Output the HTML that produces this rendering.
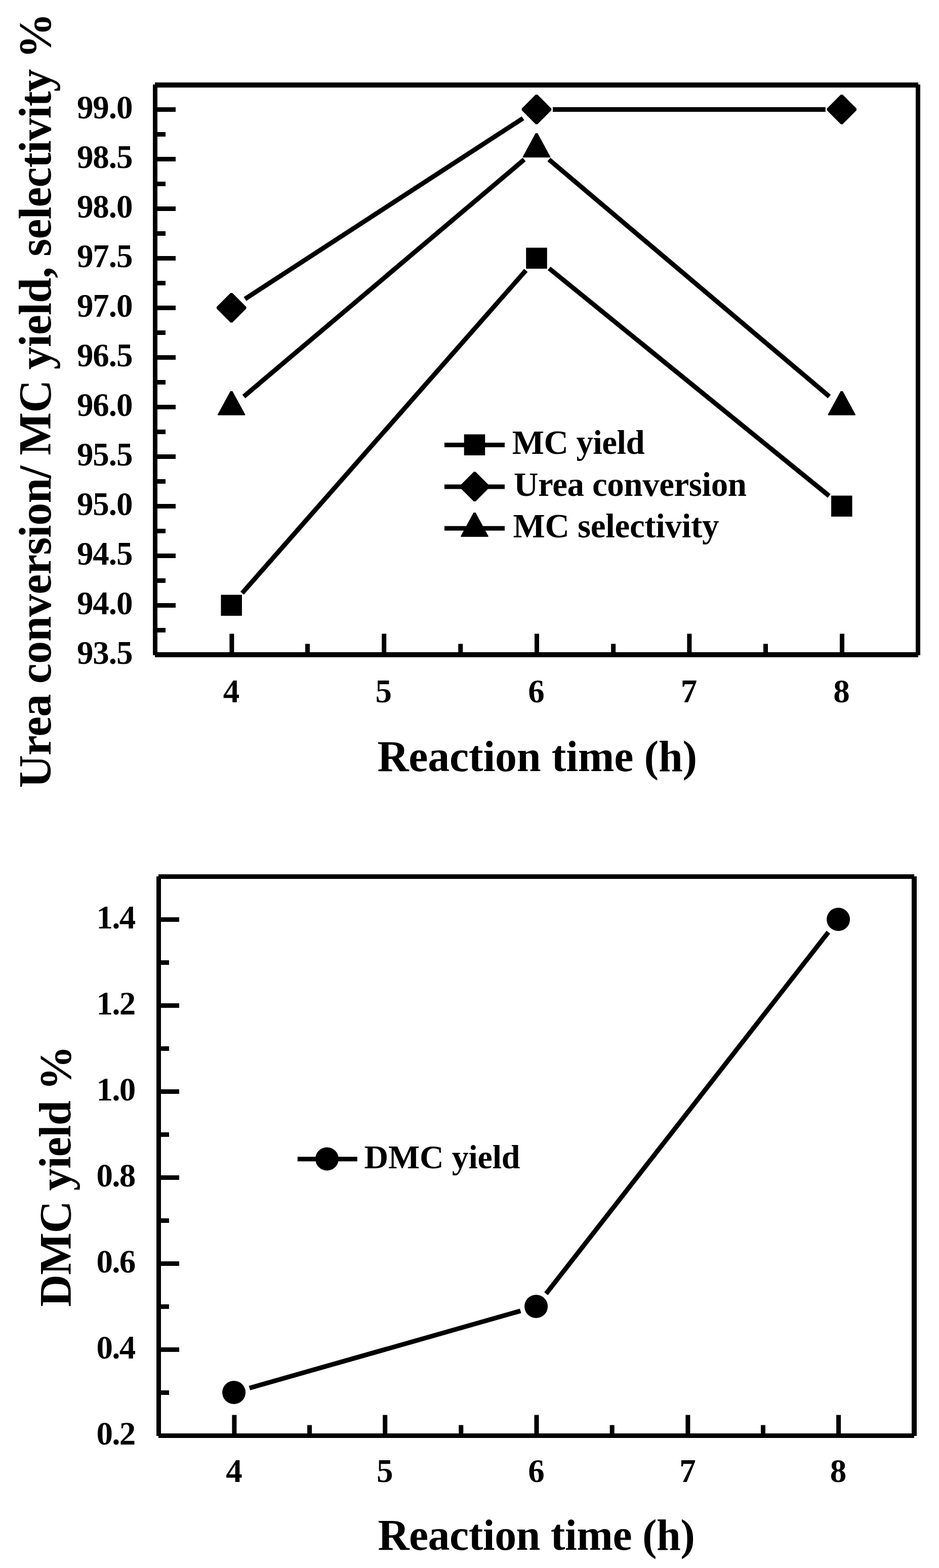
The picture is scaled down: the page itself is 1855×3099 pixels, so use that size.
<!DOCTYPE html>
<html><head><meta charset="utf-8"><title>Reaction time charts</title>
<style>
html,body{margin:0;padding:0;background:#fff;}
svg{display:block;}
text{font-family:"Liberation Serif","Times New Roman",serif;font-weight:bold;fill:#000;}
</style></head>
<body>
<svg width="1855" height="3099" viewBox="0 0 1855 3099">
<rect x="0" y="0" width="1855" height="3099" fill="#fff"/>
<g fill="#000">
<rect x="306.00" y="163.00" width="1508.00" height="10.00"/>
<rect x="302.00" y="167.00" width="9.00" height="1128.00"/>
<rect x="1809.00" y="167.00" width="9.00" height="1128.00"/>
<rect x="306.00" y="1289.00" width="1508.00" height="10.00"/>
<rect x="311.00" y="212.00" width="36.00" height="9.00"/>
<rect x="311.00" y="261.00" width="16.00" height="9.00"/>
<rect x="311.00" y="310.00" width="36.00" height="9.00"/>
<rect x="311.00" y="359.00" width="16.00" height="9.00"/>
<rect x="311.00" y="408.00" width="36.00" height="9.00"/>
<rect x="311.00" y="457.00" width="16.00" height="9.00"/>
<rect x="311.00" y="506.00" width="36.00" height="9.00"/>
<rect x="311.00" y="555.00" width="16.00" height="9.00"/>
<rect x="311.00" y="604.00" width="36.00" height="9.00"/>
<rect x="311.00" y="653.00" width="16.00" height="9.00"/>
<rect x="311.00" y="702.00" width="36.00" height="9.00"/>
<rect x="311.00" y="751.00" width="16.00" height="9.00"/>
<rect x="311.00" y="800.00" width="36.00" height="9.00"/>
<rect x="311.00" y="849.00" width="16.00" height="9.00"/>
<rect x="311.00" y="898.00" width="36.00" height="9.00"/>
<rect x="311.00" y="947.00" width="16.00" height="9.00"/>
<rect x="311.00" y="996.00" width="36.00" height="9.00"/>
<rect x="311.00" y="1045.00" width="16.00" height="9.00"/>
<rect x="311.00" y="1094.00" width="36.00" height="9.00"/>
<rect x="311.00" y="1143.00" width="16.00" height="9.00"/>
<rect x="311.00" y="1192.00" width="36.00" height="9.00"/>
<rect x="311.00" y="1241.00" width="16.00" height="9.00"/>
<text x="151.90" y="233.90" font-size="65" text-anchor="start" letter-spacing="-1.05">99.0</text>
<text x="151.90" y="331.90" font-size="65" text-anchor="start" letter-spacing="-1.05">98.5</text>
<text x="151.90" y="429.90" font-size="65" text-anchor="start" letter-spacing="-1.05">98.0</text>
<text x="151.90" y="527.90" font-size="65" text-anchor="start" letter-spacing="-1.05">97.5</text>
<text x="151.90" y="625.90" font-size="65" text-anchor="start" letter-spacing="-1.05">97.0</text>
<text x="151.90" y="723.90" font-size="65" text-anchor="start" letter-spacing="-1.05">96.5</text>
<text x="151.90" y="821.90" font-size="65" text-anchor="start" letter-spacing="-1.05">96.0</text>
<text x="151.90" y="919.90" font-size="65" text-anchor="start" letter-spacing="-1.05">95.5</text>
<text x="151.90" y="1017.90" font-size="65" text-anchor="start" letter-spacing="-1.05">95.0</text>
<text x="151.90" y="1115.90" font-size="65" text-anchor="start" letter-spacing="-1.05">94.5</text>
<text x="151.90" y="1213.90" font-size="65" text-anchor="start" letter-spacing="-1.05">94.0</text>
<text x="151.90" y="1311.90" font-size="65" text-anchor="start" letter-spacing="-1.05">93.5</text>
<rect x="453.40" y="1252.50" width="9.00" height="36.50"/>
<text x="456.90" y="1388.00" font-size="65" text-anchor="middle">4</text>
<rect x="754.20" y="1252.50" width="9.00" height="36.50"/>
<text x="757.70" y="1388.00" font-size="65" text-anchor="middle">5</text>
<rect x="1056.00" y="1252.50" width="9.00" height="36.50"/>
<text x="1059.50" y="1388.00" font-size="65" text-anchor="middle">6</text>
<rect x="1357.40" y="1252.50" width="9.00" height="36.50"/>
<text x="1360.90" y="1388.00" font-size="65" text-anchor="middle">7</text>
<rect x="1659.00" y="1252.50" width="9.00" height="36.50"/>
<text x="1662.50" y="1388.00" font-size="65" text-anchor="middle">8</text>
<rect x="603.00" y="1272.50" width="9.00" height="16.50"/>
<rect x="905.30" y="1272.50" width="9.00" height="16.50"/>
<rect x="1207.20" y="1272.50" width="9.00" height="16.50"/>
<rect x="1508.00" y="1272.50" width="9.00" height="16.50"/>
<text x="745.40" y="1524.00" font-size="86" text-anchor="start" letter-spacing="-0.22">Reaction time (h)</text>
<text transform="translate(100.00,1557.25) rotate(-90)" font-size="90" letter-spacing="-0.93">Urea conversion/ MC yield, selectivity %</text>
<line x1="478.32" y1="1172.26" x2="1038.88" y2="534.34" stroke="#000" stroke-width="9.2"/>
<line x1="1084.83" y1="530.48" x2="1637.97" y2="980.12" stroke="#000" stroke-width="9.2"/>
<line x1="484.03" y1="590.85" x2="1033.17" y2="233.75" stroke="#000" stroke-width="9.2"/>
<line x1="1092.00" y1="216.30" x2="1630.80" y2="216.30" stroke="#000" stroke-width="9.2"/>
<line x1="481.64" y1="783.64" x2="1035.56" y2="315.36" stroke="#000" stroke-width="9.2"/>
<line x1="1084.44" y1="315.36" x2="1638.36" y2="783.64" stroke="#000" stroke-width="9.2"/>
<rect x="436.45" y="1175.55" width="41.50" height="41.50"/>
<rect x="1039.25" y="489.55" width="41.50" height="41.50"/>
<rect x="1642.05" y="979.55" width="41.50" height="41.50"/>
<polygon points="455.40,579.10 459.00,579.10 486.40,606.50 486.40,610.10 459.00,637.50 455.40,637.50 428.00,610.10 428.00,606.50"/>
<polygon points="1058.20,187.10 1061.80,187.10 1089.20,214.50 1089.20,218.10 1061.80,245.50 1058.20,245.50 1030.80,218.10 1030.80,214.50"/>
<polygon points="1661.00,187.10 1664.60,187.10 1692.00,214.50 1692.00,218.10 1664.60,245.50 1661.00,245.50 1633.60,218.10 1633.60,214.50"/>
<polygon points="455.20,772.90 459.20,772.90 484.70,819.80 483.70,820.80 430.70,820.80 429.70,819.80"/>
<polygon points="1058.00,263.30 1062.00,263.30 1087.50,310.20 1086.50,311.20 1033.50,311.20 1032.50,310.20"/>
<polygon points="1660.80,772.90 1664.80,772.90 1690.30,819.80 1689.30,820.80 1636.30,820.80 1635.30,819.80"/>
<rect x="878.00" y="874.90" width="119.00" height="9.00"/>
<rect x="916.75" y="858.45" width="41.50" height="41.50"/>
<text x="1011.84" y="897.30" font-size="67" text-anchor="start" letter-spacing="-0.59">MC yield</text>
<rect x="878.00" y="957.50" width="119.00" height="9.00"/>
<polygon points="935.90,932.60 939.50,932.60 966.90,960.00 966.90,963.60 939.50,991.00 935.90,991.00 908.50,963.60 908.50,960.00"/>
<text x="1015.10" y="979.80" font-size="67" text-anchor="start" letter-spacing="-0.42">Urea conversion</text>
<rect x="878.00" y="1039.70" width="119.00" height="9.00"/>
<polygon points="935.50,1013.10 939.50,1013.10 965.00,1060.00 964.00,1061.00 911.00,1061.00 910.00,1060.00"/>
<text x="1013.60" y="1061.80" font-size="67" text-anchor="start" letter-spacing="-0.32">MC selectivity</text>
<rect x="313.00" y="1728.00" width="1493.00" height="9.00"/>
<rect x="309.00" y="1732.00" width="9.00" height="1106.00"/>
<rect x="1801.00" y="1732.00" width="10.00" height="1106.00"/>
<rect x="313.00" y="2833.00" width="1493.00" height="9.00"/>
<rect x="318.00" y="1812.90" width="36.00" height="9.00"/>
<rect x="318.00" y="1897.90" width="16.00" height="9.00"/>
<rect x="318.00" y="1982.90" width="36.00" height="9.00"/>
<rect x="318.00" y="2067.90" width="16.00" height="9.00"/>
<rect x="318.00" y="2152.90" width="36.00" height="9.00"/>
<rect x="318.00" y="2237.90" width="16.00" height="9.00"/>
<rect x="318.00" y="2322.90" width="36.00" height="9.00"/>
<rect x="318.00" y="2407.90" width="16.00" height="9.00"/>
<rect x="318.00" y="2492.90" width="36.00" height="9.00"/>
<rect x="318.00" y="2577.90" width="16.00" height="9.00"/>
<rect x="318.00" y="2662.90" width="36.00" height="9.00"/>
<rect x="318.00" y="2747.90" width="16.00" height="9.00"/>
<text x="190.55" y="1834.60" font-size="65" text-anchor="start" letter-spacing="-1.80">1.4</text>
<text x="190.55" y="2004.60" font-size="65" text-anchor="start" letter-spacing="-1.80">1.2</text>
<text x="190.55" y="2174.60" font-size="65" text-anchor="start" letter-spacing="-1.80">1.0</text>
<text x="190.55" y="2344.60" font-size="65" text-anchor="start" letter-spacing="-1.80">0.8</text>
<text x="190.55" y="2514.60" font-size="65" text-anchor="start" letter-spacing="-1.80">0.6</text>
<text x="190.55" y="2684.60" font-size="65" text-anchor="start" letter-spacing="-1.80">0.4</text>
<text x="190.55" y="2854.60" font-size="65" text-anchor="start" letter-spacing="-1.80">0.2</text>
<rect x="458.40" y="2796.50" width="9.00" height="36.50"/>
<text x="462.40" y="2929.00" font-size="65" text-anchor="middle">4</text>
<rect x="756.20" y="2796.50" width="9.00" height="36.50"/>
<text x="760.20" y="2929.00" font-size="65" text-anchor="middle">5</text>
<rect x="1055.50" y="2796.50" width="9.00" height="36.50"/>
<text x="1059.50" y="2929.00" font-size="65" text-anchor="middle">6</text>
<rect x="1354.40" y="2796.50" width="9.00" height="36.50"/>
<text x="1358.40" y="2929.00" font-size="65" text-anchor="middle">7</text>
<rect x="1652.10" y="2796.50" width="9.00" height="36.50"/>
<text x="1656.10" y="2929.00" font-size="65" text-anchor="middle">8</text>
<rect x="607.00" y="2816.50" width="9.00" height="16.50"/>
<rect x="906.30" y="2816.50" width="9.00" height="16.50"/>
<rect x="1204.70" y="2816.50" width="9.00" height="16.50"/>
<rect x="1503.00" y="2816.50" width="9.00" height="16.50"/>
<text x="746.40" y="3063.00" font-size="86" text-anchor="start" letter-spacing="-0.54">Reaction time (h)</text>
<text transform="translate(139.00,2582.70) rotate(-90)" font-size="88.5" letter-spacing="-0.98">DMC yield %</text>
<line x1="492.88" y1="2743.34" x2="1028.32" y2="2590.86" stroke="#000" stroke-width="9.2"/>
<line x1="1078.79" y1="2556.87" x2="1636.41" y2="1842.33" stroke="#000" stroke-width="9.2"/>
<circle cx="462.10" cy="2752.10" r="23"/>
<circle cx="1059.10" cy="2582.10" r="23"/>
<circle cx="1656.10" cy="1817.10" r="23"/>
<rect x="587.80" y="2286.30" width="118.00" height="9.00"/>
<circle cx="646.00" cy="2290.60" r="23"/>
<text x="719.60" y="2309.00" font-size="66" text-anchor="start" letter-spacing="-0.24">DMC yield</text>
</g>
</svg>
</body></html>
